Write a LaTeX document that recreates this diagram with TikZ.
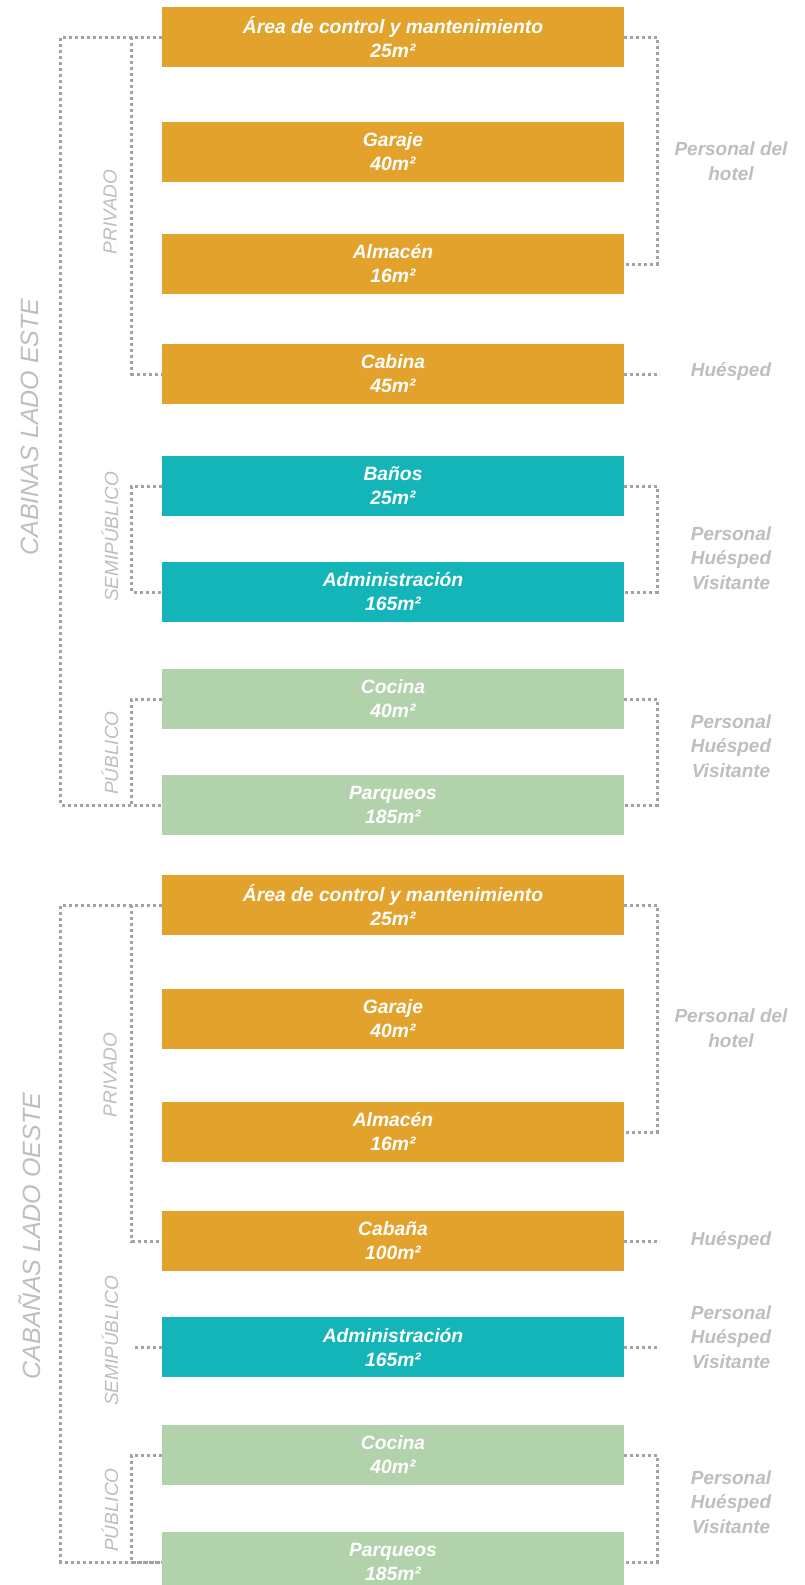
\documentclass[tikz,border=0pt]{standalone}
\usepackage{fontspec}
\setmainfont{Liberation Sans}
\usetikzlibrary{positioning}
\definecolor{cNaranja}{HTML}{E3A22B}
\definecolor{cTurquesa}{HTML}{13B5B9}
\definecolor{cVerde}{HTML}{B2D2AC}
\definecolor{cGris}{HTML}{BDBDC2}
\definecolor{cPunto}{HTML}{A2A2A6}

\begin{document}
\begin{tikzpicture}[x=1pt, y=-1pt,
      zona/.style={minimum width=462pt, minimum height=60pt, inner sep=0pt,
        text=white, align=center, font=\fontsize{19.3}{24}\selectfont\bfseries\itshape},
      punteado/.style={cPunto, line width=3pt, dash pattern=on 3pt off 3pt},
      quien/.style={text=cGris, align=center, font=\fontsize{19}{24.5}\selectfont\bfseries\itshape},
      nivel/.style={text=cGris, rotate=90, font=\fontsize{19}{23}\selectfont\itshape},
      lado/.style={text=cGris, rotate=90, font=\fontsize{25}{30}\selectfont\itshape}]
    \clip (0,0) rectangle (805,1585);
    % cabinas lado este
    \foreach \nom/\y/\c [count=\j] in
      {{Área de control y mantenimiento\\25m²}/37/cNaranja, {Garaje\\40m²}/152/cNaranja,
       {Almacén\\16m²}/264/cNaranja, {Cabina\\45m²}/374/cNaranja,
       {Baños\\25m²}/486/cTurquesa, {Administración\\165m²}/592/cTurquesa,
       {Cocina\\40m²}/699/cVerde, {Parqueos\\185m²}/805/cVerde} {
      \node[zona, fill=\c] (e\j) at (393,\y) {\nom};
    }
    % cabañas lado oeste
    \foreach \nom/\y/\c [count=\j] in
      {{Área de control y mantenimiento\\25m²}/905/cNaranja, {Garaje\\40m²}/1019/cNaranja,
       {Almacén\\16m²}/1132/cNaranja, {Cabaña\\100m²}/1241/cNaranja,
       {Administración\\165m²}/1347/cTurquesa,
       {Cocina\\40m²}/1455/cVerde, {Parqueos\\185m²}/1562/cVerde} {
      \node[zona, fill=\c] (o\j) at (393,\y) {\nom};
    }
    % corchetes
    \draw[punteado] (e1.west) -- ++(-101,0) |- (e8.west);
    \draw[punteado] (o1.west) -- ++(-101,0) |- (o7.west);
    \foreach \a/\b in {e1/e4, e5/e6, e7/e8, o1/o4, o6/o7}
      \draw[punteado] (\a.west) -- ++(-30,0) |- (\b.west);
    \foreach \a/\b in {e1/e3, e5/e6, e7/e8, o1/o3, o6/o7}
      \draw[punteado] (\a.east) -- ++(33,0) |- (\b.east);
    \draw[punteado] (o5.west) -- ++(-30,0);
    \foreach \a in {e4, o4, o5}
      \draw[punteado] (\a.east) -- ++(36,0);
    % zonas
    \node[lado] (ladoE) at (30,427) {CABINAS LADO ESTE};
    \node[lado] (ladoO) at (30,1236) {CABAÑAS LADO OESTE};
    \node[nivel] (privE) at (110,212) {PRIVADO};
    \node[nivel] (semiE) at (110,537) {SEMIPÚBLICO};
    \node[nivel] (publE) at (110,753) {PÚBLICO};
    \node[nivel] (privO) at (110,1075) {PRIVADO};
    \node[nivel] (semiO) at (110,1341) {SEMIPÚBLICO};
    \node[nivel] (publO) at (110,1510) {PÚBLICO};
    % usuarios
    \node[quien] (persE) at (731,161) {Personal del\\hotel};
    \node[quien] (huesE) at (731,371) {Huésped};
    \node[quien] (todosE1) at (731,558) {Personal\\Huésped\\Visitante};
    \node[quien] (todosE2) at (731,746) {Personal\\Huésped\\Visitante};
    \node[quien] (persO) at (731,1028) {Personal del\\hotel};
    \node[quien] (huesO) at (731,1240) {Huésped};
    \node[quien] (todosO1) at (731,1337) {Personal\\Huésped\\Visitante};
    \node[quien] (todosO2) at (731,1502) {Personal\\Huésped\\Visitante};
  \end{tikzpicture}
\end{document}
